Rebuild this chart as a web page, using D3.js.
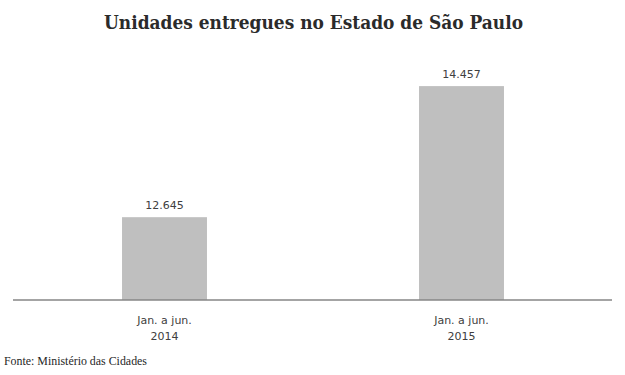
<!DOCTYPE html>
<html>
<head>
<meta charset="utf-8">
<script src="https://cdn.jsdelivr.net/npm/d3@7"></script>
<style>
    body { margin: 0; background: #fff; }
    svg { display: block; }
</style>
</head>
<body>
<svg id="chart"></svg>
<script>
const chartTitle = "Unidades entregues no Estado de São Paulo";
const sourceNote = "Fonte: Ministério das Cidades";
const periods = ["Jan. a jun.|2014", "Jan. a jun.|2015"];
const units = [12645, 14457];
const yDomain = [11500, 14500];

const width = 625,
    height = 375;
const margin = { top: 83, right: 15, bottom: 75, left: 16 };

const svg = d3.select("#chart")
    .attr("width", width)
    .attr("height", height);

const x = d3.scaleBand()
    .domain(periods)
    .range([margin.left, width - margin.right])
    .paddingInner(0.714)
    .paddingOuter(0.357);

const y = d3.scaleLinear()
    .domain(yDomain)
    .range([height - margin.bottom, margin.top]);

const fmt = d3.formatLocale({ decimal: ",", thousands: ".", grouping: [3], currency: ["R$", ""] }).format(",d");

// title
svg.append("text")
    .attr("x", width / 2 + 1)
    .attr("y", 29)
    .attr("text-anchor", "middle")
    .attr("font-family", "'DejaVu Serif', serif")
    .attr("font-weight", "bold")
    .attr("font-size", 18)
    .attr("fill", "#2b2b2b")
    .attr("textLength", 419)
    .attr("lengthAdjust", "spacingAndGlyphs")
    .text(chartTitle);

// bars
svg.append("g")
    .selectAll("rect")
    .data(units)
    .join("rect")
    .attr("x", (d, i) => x(periods[i]))
    .attr("y", d => y(d))
    .attr("width", x.bandwidth())
    .attr("height", d => y(yDomain[0]) - y(d))
    .attr("fill", "#bfbfbf");

// value labels
svg.append("g")
    .selectAll("text")
    .data(units)
    .join("text")
    .attr("x", (d, i) => x(periods[i]) + x.bandwidth() / 2)
    .attr("y", d => y(d) - 8)
    .attr("text-anchor", "middle")
    .attr("font-family", "'DejaVu Sans', sans-serif")
    .attr("font-size", 11)
    .attr("fill", "#404040")
    .text(d => fmt(d));

// category axis
const gx = svg.append("g")
    .attr("transform", `translate(0,${y(yDomain[0])})`)
    .call(d3.axisBottom(x).tickSize(0).tickSizeOuter(0).tickFormat(""));

// the baseline runs a bit past the band range on both ends
gx.select(".domain").remove();
gx.append("line")
    .attr("x1", margin.left - 3)
    .attr("x2", width - margin.right + 2)
    .attr("stroke", "#868686")
    .attr("stroke-width", 1.3);

gx.selectAll(".tick text").remove();
gx.selectAll(".tick")
    .each(function (d) {
        const lines = d.split("|");
        d3.select(this).selectAll("text.lbl")
            .data(lines)
            .join("text")
            .attr("class", "lbl")
            .attr("y", (l, i) => 24 + i * 16)
            .attr("text-anchor", "middle")
            .attr("font-family", "'DejaVu Sans', sans-serif")
            .attr("font-size", 11)
            .attr("fill", "#404040")
            .text(l => l);
    });

// source note
svg.append("text")
    .attr("x", 4)
    .attr("y", 365)
    .attr("font-family", "'Liberation Serif', serif")
    .attr("font-size", 11.5)
    .attr("fill", "#262626")
    .attr("textLength", 143)
    .attr("lengthAdjust", "spacingAndGlyphs")
    .text(sourceNote);
</script>
</body>
</html>
